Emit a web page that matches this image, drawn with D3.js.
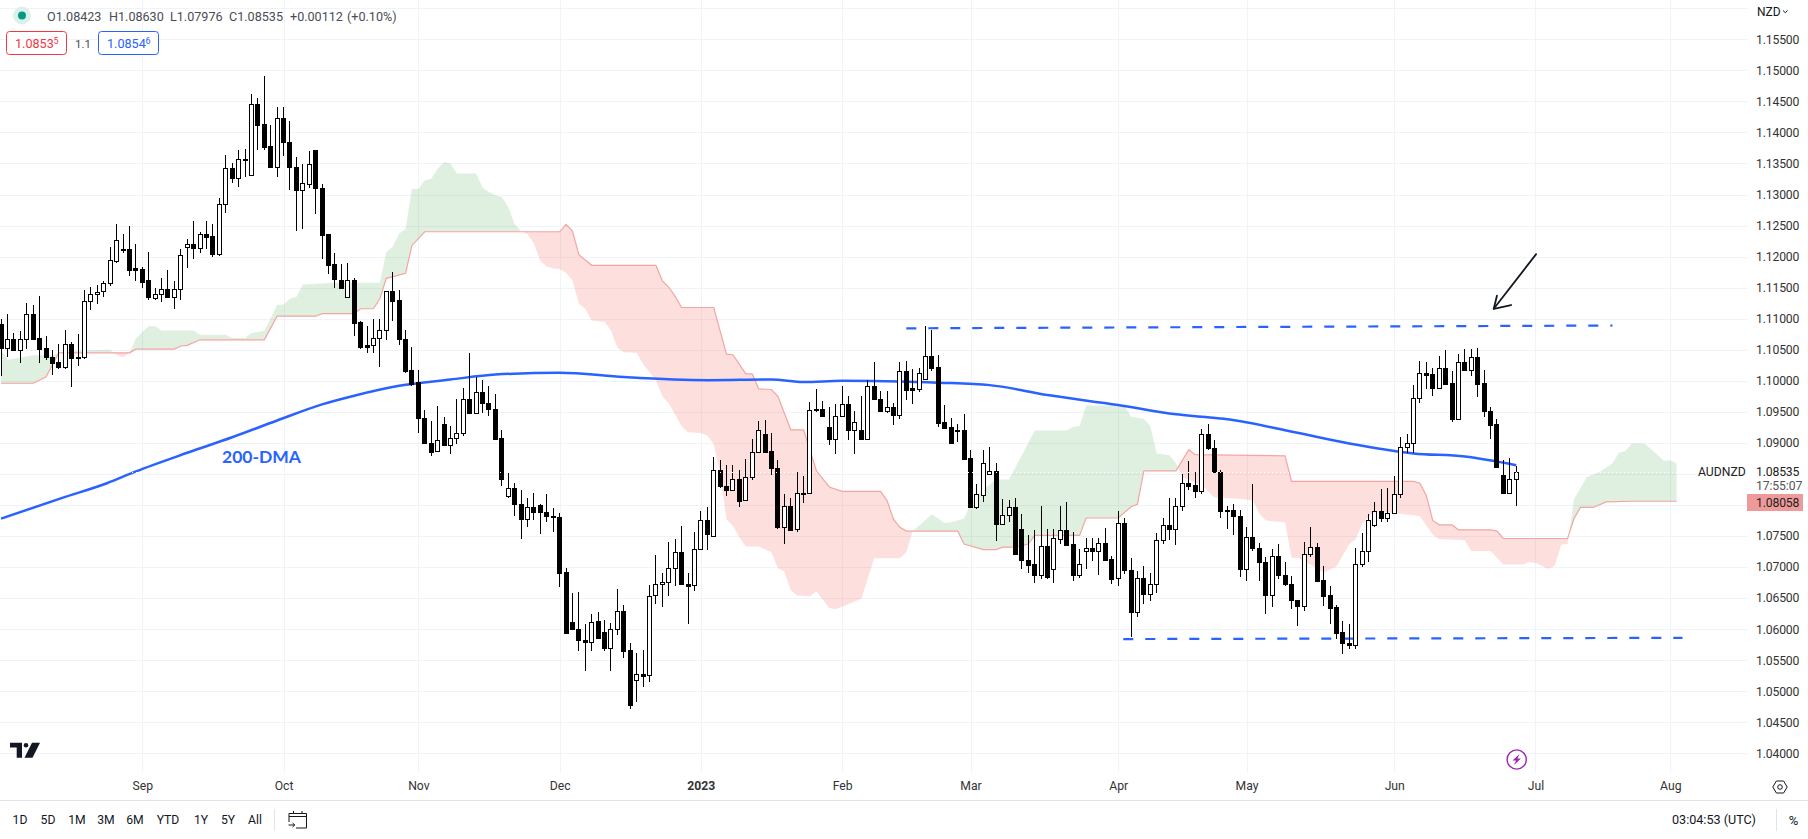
<!DOCTYPE html>
<html>
<head>
<meta charset="utf-8">
<title>AUDNZD</title>
<script src="https://d3js.org/d3.v7.min.js"></script>
<style>
  html, body { margin: 0; padding: 0; background: #fff; overflow: hidden; }
  svg text { font-family: Roboto, "Liberation Sans", sans-serif; }
</style>
</head>
<body>
<div id="chart"></div>
<script>
// daily candles, one entry per trading bar
const candleOpen = [
  1.1092,1.1053,1.1068,1.1050,1.1068,1.1107,1.1069,1.1052,1.1039,1.1030,
  1.1022,1.1060,1.1039,1.1038,1.1129,1.1139,1.1144,1.1157,1.1193,1.1213,
  1.1213,1.1181,1.1180,1.1162,1.1134,1.1140,1.1148,1.1135,1.1148,1.1216,
  1.1221,1.1214,1.1237,1.1233,1.1204,1.1284,1.1342,1.1326,1.1358,1.1332,
  1.1445,1.1414,1.1378,1.1345,1.1423,1.1384,1.1345,1.1307,1.1317,1.1372,
  1.1311,1.1236,1.1188,1.1163,1.1135,1.1163,1.1094,1.1058,1.1058,1.1069,
  1.1082,1.1144,1.1130,1.1068,1.1017,1.0998,1.0940,1.0900,1.0887,1.0930,
  1.0897,1.0908,1.0916,1.0971,1.0948,1.0982,1.0965,1.0955,1.0908,1.0814,
  1.0827,1.0801,1.0777,1.0797,1.0800,1.0789,1.0782,1.0781,1.0692,1.0611,
  1.0601,1.0582,1.0580,1.0613,1.0595,1.0569,1.0601,1.0629,1.0566,1.0518,
  1.0527,1.0526,1.0655,1.0672,1.0676,1.0698,1.0724,1.0672,1.0671,1.0729,
  1.0776,1.0750,1.0856,1.0831,1.0824,1.0842,1.0808,1.0845,1.0885,1.0914,
  1.0887,1.0860,1.0764,1.0798,1.0761,1.0820,1.0819,1.0955,1.0955,1.0926,
  1.0906,1.0944,1.0963,1.0921,1.0920,1.0907,1.0992,1.0971,1.0951,1.0958,
  1.0945,1.1016,1.0988,1.0987,1.1003,1.1040,1.1022,1.0933,1.0925,1.0919,
  1.0920,1.0875,1.0797,1.0816,1.0850,1.0855,1.0769,1.0784,1.0796,1.0762,
  1.0712,1.0705,1.0687,1.0734,1.0697,1.0745,1.0760,1.0737,1.0687,1.0726,
  1.0731,1.0726,1.0739,1.0713,1.0682,1.0771,1.0695,1.0627,1.0683,1.0657,
  1.0672,1.0744,1.0768,1.0761,1.0799,1.0836,1.0832,1.0822,1.0915,1.0892,
  1.0853,1.0792,1.0792,1.0783,1.0697,1.0749,1.0731,1.0708,1.0655,1.0718,
  1.0687,1.0673,1.0647,1.0638,1.0721,1.0733,1.0679,1.0655,1.0636,1.0595,
  1.0578,1.0575,1.0705,1.0726,1.0768,1.0791,1.0779,1.0787,1.0818,1.0894,
  1.0900,1.0973,1.1013,1.1011,1.0989,1.1020,1.0996,1.0939,1.1030,1.1018,
  1.1039,1.0996,1.0952,1.0930,1.0849,1.0820,1.08423
];
const candleHigh = [
  1.1099,1.1108,1.1077,1.1080,1.1125,1.1122,1.1136,1.1072,1.1050,1.1060,
  1.1081,1.1062,1.1075,1.1146,1.1151,1.1155,1.1161,1.1215,1.1253,1.1237,
  1.1249,1.1220,1.1183,1.1207,1.1150,1.1166,1.1178,1.1160,1.1212,1.1228,
  1.1258,1.1240,1.1257,1.1253,1.1294,1.1364,1.1350,1.1371,1.1373,1.1462,
  1.1455,1.1491,1.1412,1.1441,1.1441,1.1419,1.1361,1.1349,1.1370,1.1372,
  1.1317,1.1236,1.1205,1.1188,1.1190,1.1165,1.1097,1.1088,1.1100,1.1100,
  1.1144,1.1175,1.1146,1.1081,1.1055,1.1018,1.0953,1.0936,1.0960,1.0942,
  1.0927,1.0970,1.0989,1.1044,1.1006,1.1001,1.0992,1.0979,1.0920,1.0852,
  1.0836,1.0824,1.0811,1.0820,1.0802,1.0818,1.0795,1.0787,1.0698,1.0658,
  1.0660,1.0608,1.0625,1.0627,1.0615,1.0610,1.0664,1.0639,1.0577,1.0561,
  1.0566,1.0671,1.0719,1.0690,1.0740,1.0745,1.0766,1.0690,1.0757,1.0790,
  1.0797,1.0877,1.0873,1.0865,1.0865,1.0856,1.0874,1.0906,1.0936,1.0937,
  1.0916,1.0872,1.0818,1.0811,1.0853,1.0847,1.0966,1.0986,1.0968,1.0957,
  1.0962,1.0992,1.0976,1.0952,1.0975,1.1002,1.1031,1.0983,1.0984,1.0965,
  1.1031,1.1032,1.1019,1.1020,1.1088,1.1082,1.1041,1.0961,1.0940,1.0930,
  1.0947,1.0888,1.0833,1.0888,1.0893,1.0868,1.0810,1.0808,1.0812,1.0785,
  1.0751,1.0759,1.0799,1.0762,1.0762,1.0798,1.0804,1.0756,1.0729,1.0746,
  1.0746,1.0746,1.0763,1.0718,1.0791,1.0779,1.0715,1.0693,1.0702,1.0691,
  1.0755,1.0779,1.0812,1.0812,1.0850,1.0870,1.0853,1.0923,1.0931,1.0905,
  1.0857,1.0798,1.0802,1.0792,1.0765,1.0834,1.0739,1.0716,1.0729,1.0737,
  1.0708,1.0686,1.0647,1.0740,1.0765,1.0739,1.0702,1.0669,1.0639,1.0613,
  1.0608,1.0730,1.0755,1.0786,1.0804,1.0825,1.0828,1.0846,1.0910,1.0914,
  1.0993,1.1032,1.1030,1.1020,1.1040,1.1049,1.1016,1.1043,1.1051,1.1051,
  1.1053,1.1017,1.0958,1.0939,1.0872,1.0875,1.0863
];
const candleLow = [
  1.1008,1.1038,1.1048,1.1029,1.1051,1.1066,1.1029,1.1034,1.1010,1.1019,
  1.1019,1.0990,1.1023,1.1035,1.1114,1.1123,1.1135,1.1153,1.1190,1.1206,
  1.1168,1.1160,1.1150,1.1130,1.1130,1.1127,1.1134,1.1115,1.1130,1.1182,
  1.1196,1.1206,1.1213,1.1200,1.1201,1.1271,1.1318,1.1312,1.1329,1.1332,
  1.1372,1.1372,1.1345,1.1329,1.1362,1.1307,1.1241,1.1244,1.1310,1.1269,
  1.1196,1.1172,1.1150,1.1149,1.1135,1.1072,1.1051,1.1045,1.1045,1.1022,
  1.1065,1.1097,1.1057,1.1012,1.0991,1.0916,1.0898,1.0879,1.0887,1.0897,
  1.0882,1.0898,1.0911,1.0948,1.0948,1.0948,1.0944,1.0907,1.0831,1.0811,
  1.0783,1.0745,1.0764,1.0775,1.0753,1.0772,1.0756,1.0668,1.0594,1.0599,
  1.0564,1.0533,1.0565,1.0585,1.0565,1.0532,1.0591,1.0554,1.0472,1.0483,
  1.0506,1.0515,1.0641,1.0636,1.0654,1.0670,1.0672,1.0608,1.0662,1.0729,
  1.0727,1.0748,1.0827,1.0815,1.0822,1.0797,1.0808,1.0840,1.0885,1.0885,
  1.0849,1.0761,1.0737,1.0758,1.0756,1.0803,1.0819,1.0949,1.0943,1.0896,
  1.0882,1.0944,1.0904,1.0882,1.0907,1.0906,1.0970,1.0951,1.0948,1.0928,
  1.0939,1.0969,1.0962,1.0982,1.1003,1.1015,1.0926,1.0922,1.0898,1.0902,
  1.0874,1.0797,1.0793,1.0805,1.0850,1.0742,1.0767,1.0772,1.0721,1.0697,
  1.0690,1.0674,1.0680,1.0680,1.0674,1.0737,1.0735,1.0677,1.0682,1.0697,
  1.0709,1.0687,1.0709,1.0672,1.0670,1.0688,1.0588,1.0619,1.0640,1.0645,
  1.0658,1.0737,1.0744,1.0735,1.0790,1.0824,1.0811,1.0817,1.0888,1.0853,
  1.0779,1.0762,1.0751,1.0684,1.0677,1.0726,1.0678,1.0624,1.0635,1.0680,
  1.0670,1.0632,1.0605,1.0630,1.0716,1.0677,1.0637,1.0608,1.0584,1.0560,
  1.0568,1.0568,1.0700,1.0708,1.0764,1.0772,1.0773,1.0787,1.0811,1.0884,
  1.0884,1.0964,1.0987,1.0976,1.0989,1.0995,1.0934,1.0939,1.1018,1.1008,
  1.0974,1.0942,1.0906,1.0860,1.0817,1.0820,1.07976
];
const candleClose = [
  1.1053,1.1068,1.1050,1.1068,1.1107,1.1068,1.1051,1.1038,1.1029,1.1022,
  1.1060,1.1037,1.1037,1.1129,1.1139,1.1143,1.1157,1.1194,1.1226,1.1211,
  1.1179,1.1179,1.1159,1.1135,1.1140,1.1148,1.1135,1.1148,1.1203,1.1221,
  1.1214,1.1237,1.1232,1.1204,1.1284,1.1342,1.1326,1.1358,1.1357,1.1445,
  1.1412,1.1377,1.1345,1.1423,1.1384,1.1345,1.1307,1.1318,1.1349,1.1311,
  1.1235,1.1187,1.1164,1.1150,1.1163,1.1093,1.1054,1.1054,1.1069,1.1082,
  1.1144,1.1129,1.1067,1.1015,1.0995,1.0940,1.0899,1.0886,1.0905,1.0897,
  1.0908,1.0916,1.0971,1.0948,1.0982,1.0964,1.0954,1.0907,1.0841,1.0827,
  1.0801,1.0777,1.0796,1.0788,1.0788,1.0782,1.0780,1.0690,1.0594,1.0600,
  1.0582,1.0580,1.0612,1.0585,1.0569,1.0601,1.0629,1.0565,1.0477,1.0527,
  1.0525,1.0654,1.0672,1.0676,1.0698,1.0724,1.0672,1.0670,1.0729,1.0776,
  1.0753,1.0856,1.0830,1.0824,1.0842,1.0807,1.0845,1.0885,1.0921,1.0885,
  1.0859,1.0764,1.0798,1.0760,1.0819,1.0819,1.0953,1.0953,1.0943,1.0906,
  1.0944,1.0963,1.0920,1.0934,1.0907,1.0992,1.0970,1.0951,1.0958,1.0945,
  1.1015,1.0985,1.0985,1.1012,1.1040,1.1020,1.0932,1.0924,1.0899,1.0920,
  1.0874,1.0797,1.0817,1.0868,1.0855,1.0769,1.0784,1.0796,1.0721,1.0711,
  1.0704,1.0687,1.0734,1.0684,1.0746,1.0760,1.0736,1.0687,1.0705,1.0731,
  1.0726,1.0739,1.0712,1.0680,1.0771,1.0695,1.0627,1.0683,1.0656,1.0673,
  1.0744,1.0768,1.0761,1.0799,1.0836,1.0831,1.0822,1.0915,1.0891,1.0853,
  1.0790,1.0790,1.0782,1.0697,1.0749,1.0730,1.0708,1.0655,1.0718,1.0687,
  1.0672,1.0647,1.0638,1.0721,1.0733,1.0678,1.0653,1.0634,1.0594,1.0578,
  1.0575,1.0705,1.0726,1.0776,1.0791,1.0779,1.0787,1.0818,1.0894,1.0900,
  1.0973,1.1013,1.1010,1.0989,1.1020,1.0995,1.0939,1.1030,1.1018,1.1039,
  1.0995,1.0952,1.0929,1.0861,1.0819,1.0842,1.08535
];

// cloud edges, [bar index, price] at each corner of the edge
const spanA = [
  [0,1.1050],[1,1.1034],[3,1.1037],[5,1.1041],[8,1.1041],[9,1.1045],[13,1.1049],[17,1.1050],[18,1.1042],[19,1.1038],
  [20,1.1045],[21,1.1068],[22,1.1079],[23,1.1088],[24,1.1088],[25,1.1081],[30,1.1081],[31,1.1074],[35,1.1074],[36,1.1069],
  [38,1.1069],[39,1.1077],[41,1.1080],[43,1.1122],[44,1.1123],[45,1.1132],[46,1.1135],[47,1.1155],[52,1.1158],[59,1.1158],
  [60,1.1207],[61,1.1216],[62,1.1237],[63,1.1245],[64,1.1309],[65,1.1309],[66,1.1323],[67,1.1325],[68,1.1342],[69,1.1352],
  [70,1.1350],[71,1.1334],[74,1.1334],[75,1.1311],[76,1.1304],[77,1.1299],[78,1.1296],[79,1.1280],[80,1.1252],[81,1.1241],
  [82,1.1236],[83,1.1221],[84,1.1193],[85,1.1184],[86,1.1181],[87,1.1180],[88,1.1174],[89,1.1162],[90,1.1124],[91,1.1116],
  [92,1.1097],[94,1.1095],[95,1.1081],[96,1.1053],[97,1.1046],[99,1.1045],[100,1.1027],[102,1.1001],[103,1.0975],[104,1.0964],
  [106,1.0927],[107,1.0917],[109,1.0916],[110,1.0912],[111,1.0898],[112,1.0850],[113,1.0777],[114,1.0766],[115,1.0748],[116,1.0733],
  [118,1.0733],[120,1.0724],[121,1.0698],[122,1.0693],[123,1.0663],[124,1.0654],[126,1.0653],[127,1.0661],[129,1.0634],[130,1.0632],
  [134,1.0649],[136,1.0714],[140,1.0714],[141,1.0724],[142,1.0758],[143,1.0767],[145,1.0785],[147,1.0771],[148,1.0772],[150,1.0778],
  [151,1.0802],[153,1.0825],[155,1.0841],[157,1.0841],[159,1.0880],[161,1.0920],[166,1.0920],[167,1.0926],[168,1.0927],[169,1.0960],
  [175,1.0960],[176,1.0942],[178,1.0939],[179,1.0927],[180,1.0883],[182,1.0880],[183,1.0867],[184,1.0845],[187,1.0832],[189,1.0812],
  [193,1.0810],[195,1.0807],[196,1.0786],[197,1.0775],[200,1.0772],[201,1.0715],[202,1.0715],[205,1.0698],[206,1.0691],[208,1.0701],
  [210,1.0737],[211,1.0745],[212,1.0770],[214,1.0790],[218,1.0786],[221,1.0782],[223,1.0752],[224,1.0745],[228,1.0743],[229,1.0726],
  [232,1.0726],[234,1.0704],[237,1.0704],[238,1.0708],[239,1.0707],[241,1.0697],[242,1.0702],[243,1.0736],[244,1.0737],[245,1.0809],
  [247,1.0845],[249,1.0853],[251,1.0867],[252,1.0884],[253,1.0887],[254,1.0899],[256,1.0899],[259,1.0871],[260,1.0872],[261,1.0867]
];
const spanB = [
  [0,1.0996],[5,1.0996],[7,1.1006],[9,1.1045],[20,1.1045],[21,1.1051],[27,1.1051],[28,1.1056],[29,1.1057],[31,1.1066],
  [41,1.1066],[43,1.1104],[49,1.1104],[50,1.1108],[55,1.1108],[56,1.1116],[58,1.1116],[59,1.1132],[60,1.1165],[63,1.1173],
  [64,1.1218],[66,1.1240],[87,1.1240],[88,1.1252],[89,1.1241],[90,1.1203],[92,1.1186],[102,1.1186],[103,1.1161],[104,1.1151],
  [105,1.1136],[106,1.1118],[111,1.1118],[113,1.1043],[114,1.1042],[116,1.1011],[117,1.1011],[118,1.0987],[120,1.0986],[121,1.0975],
  [123,1.0921],[125,1.0921],[127,1.0855],[128,1.0842],[129,1.0829],[131,1.0822],[137,1.0822],[138,1.0807],[139,1.0777],[140,1.0764],
  [141,1.0758],[149,1.0758],[150,1.0737],[153,1.0728],[155,1.0728],[156,1.0732],[158,1.0732],[160,1.0737],[161,1.0751],[168,1.0751],
  [169,1.0779],[174,1.0779],[176,1.0797],[177,1.0801],[178,1.0855],[183,1.0855],[185,1.0889],[186,1.0881],[200,1.0879],[201,1.0838],
  [220,1.0838],[221,1.0835],[222,1.0815],[223,1.0775],[224,1.0768],[226,1.0768],[227,1.0760],[232,1.0760],[233,1.0758],[234,1.0746],
  [244,1.0746],[245,1.0778],[246,1.0796],[248,1.0796],[250,1.0805],[254,1.0806],[261,1.0806]
];

// 200 day moving average, [bar index, price]
const dma200 = [
  [0,1.0778],[10,1.0813],[16.5,1.0835],[21,1.0854],[29,1.0884],[36,1.0909],[43,1.0936],[50,1.0962],[55,1.0976],[62,1.0992],
  [70,1.1002],[77,1.1010],[87,1.1013],[97,1.1006],[110,1.1001],[120,1.1002],[125,1.0998],[131,1.1000],[140,1.0999],[146,1.0997],
  [154,1.0993],[163,1.0977],[174,1.0961],[183,1.0946],[187,1.0942],[191,1.0938],[201.5,1.0917],[210,1.0899],[220,1.0883],[228,1.0878],[236,1.0864]
];

// hand drawn support and resistance
const resistanceLine = [[141,1.10845],[251,1.1089]];
const supportLine = [[174.8,1.0584],[261.9,1.0586]];
const arrowShaft = [[239.1,1.1204],[232.5,1.1116]];
const arrowHead = [[233,1.1137],[232.5,1.1116],[235.2,1.1122]];

const gridPrices = [1.16,1.155,1.15,1.145,1.14,1.135,1.13,1.125,1.12,1.115,1.11,1.105,1.1,1.095,1.09,1.085,1.08,1.075,1.07,1.065,1.06,1.055,1.05,1.045,1.04];
const labelPrices = [1.155,1.15,1.145,1.14,1.135,1.13,1.125,1.12,1.115,1.11,1.105,1.1,1.095,1.09,1.075,1.07,1.065,1.06,1.055,1.05,1.045,1.04];
const monthBars = [22,44,65,87,109,131,151,174,194,217,239,260];
const monthLabels = ["Sep","Oct","Nov","Dec","2023","Feb","Mar","Apr","May","Jun","Jul","Aug"];
const rangeLabels = ["1D","5D","1M","3M","6M","YTD","1Y","5Y","All"];
const rangeX = [20,48,77,106,135,168,201,228,255];
const ohlcLabels = ["O1.08423","H1.08630","L1.07976","C1.08535","+0.00112","(+0.10%)"];
const ohlcX = [47,109,170,229,290,347];
const lastClose = 1.08535;

const W = 1808, H = 839, plotRight = 1747, plotBottom = 772;

const x = d3.scaleLinear().domain([0, 260]).range([1.06, 1670.3]);
const y = d3.scaleLinear().domain([1.04, 1.155]).range([753.3, 39.3]);

const svg = d3.select("#chart").append("svg").attr("width", W).attr("height", H).style("display", "block");

const px = v => Math.round(v) + 0.5;

// grid
const grid = svg.append("g").attr("stroke", "#f0f3fa").attr("stroke-width", 1);
grid.selectAll(".h").data(gridPrices).join("line").attr("x1", 0).attr("x2", plotRight).attr("y1", d => px(y(d))).attr("y2", d => px(y(d)));
grid.selectAll(".v").data(monthBars).join("line").attr("x1", d => px(x(d))).attr("x2", d => px(x(d))).attr("y1", 0).attr("y2", plotBottom);

// cloud, one polygon cut in two by the area above and below span B
const xy = d => [x(d[0]), y(d[1])];
const poly = d3.line().x(d => d[0]).y(d => d[1]);
const cloudPts = spanA.map(xy).concat(spanB.map(xy).reverse());
const bPts = spanB.map(xy);
const first = bPts[0][0], last = bPts[bPts.length - 1][0];
const defs = svg.append("defs");
defs.append("clipPath").attr("id", "aboveB").append("path").attr("d", poly(bPts.concat([[last, 0], [first, 0]])) + "Z");
defs.append("clipPath").attr("id", "belowB").append("path").attr("d", poly(bPts.concat([[last, H], [first, H]])) + "Z");

svg.append("path").attr("d", poly(cloudPts) + "Z").attr("fill", "#43a047").attr("fill-opacity", 0.17).attr("clip-path", "url(#aboveB)");
svg.append("path").attr("d", poly(cloudPts) + "Z").attr("fill", "#f44336").attr("fill-opacity", 0.17).attr("clip-path", "url(#belowB)");
svg.append("path").attr("d", poly(bPts)).attr("fill", "none").attr("stroke", "#f4a5a0").attr("stroke-width", 1.2);

// moving average and annotations
const priceLine = d3.line().x(d => x(d[0])).y(d => y(d[1]));
svg.append("path").attr("d", priceLine.curve(d3.curveMonotoneX)(dma200)).attr("fill", "none").attr("stroke", "#2962ff").attr("stroke-width", 2.5);
priceLine.curve(d3.curveLinear);
[resistanceLine, supportLine].forEach(l => {
  svg.append("path").attr("d", priceLine(l)).attr("fill", "none").attr("stroke", "#2962ff").attr("stroke-width", 2.2).attr("stroke-dasharray", "10 12");
});
[arrowShaft, arrowHead].forEach(l => {
  svg.append("path").attr("d", priceLine(l)).attr("fill", "none").attr("stroke", "#131722").attr("stroke-width", 1.8).attr("stroke-linecap", "round").attr("stroke-linejoin", "round");
});
svg.append("text").attr("x", 222).attr("y", 463).attr("fill", "#2962ff").attr("font-size", 17.5).attr("font-weight", 700)
  .style("font-family", "Lato").text("200-DMA");

// candles
const candles = candleOpen.map((o, i) => ({ i, o, h: candleHigh[i], l: candleLow[i], c: candleClose[i] }));
const bars = svg.append("g").attr("shape-rendering", "crispEdges");
bars.selectAll(".wick").data(candles).join("rect")
  .attr("x", d => Math.floor(x(d.i)))
  .attr("width", 1)
  .attr("y", d => Math.round(y(d.h)))
  .attr("height", d => Math.max(1, Math.round(y(d.l)) - Math.round(y(d.h))))
  .attr("fill", "#000");
bars.selectAll(".body").data(candles).join("rect")
  .attr("x", d => Math.floor(x(d.i)) - 1.5)
  .attr("width", 4)
  .attr("y", d => Math.round(y(Math.max(d.o, d.c))) + 0.5)
  .attr("height", d => Math.max(1, Math.round(y(Math.min(d.o, d.c))) - Math.round(y(Math.max(d.o, d.c)))))
  .attr("fill", d => d.c >= d.o ? "#fff" : "#000")
  .attr("stroke", "#000");

// last price dotted line
svg.append("line").attr("x1", 0).attr("x2", 1693).attr("y1", px(y(lastClose))).attr("y2", px(y(lastClose)))
  .attr("stroke", "#fff").attr("stroke-width", 1).attr("stroke-dasharray", "1 3");

// price axis
const yAxis = d3.axisRight(y).tickValues(labelPrices).tickSize(0).tickPadding(9).tickFormat(d3.format(".5f"));
const yG = svg.append("g").attr("transform", `translate(${plotRight},0)`).call(yAxis);
yG.select(".domain").remove();
yG.selectAll("text").attr("fill", "#333").attr("font-size", 12.2).style("letter-spacing", "-0.15px").style("font-family", "Roboto");

// time axis
const xAxis = d3.axisBottom(x).tickValues(monthBars).tickSize(0).tickPadding(0).tickFormat((d, i) => monthLabels[i]);
const xG = svg.append("g").attr("transform", `translate(0,${plotBottom})`).call(xAxis);
xG.select(".domain").remove();
xG.selectAll("text").attr("y", 14).attr("dy", "0.35em").attr("fill", "#333").attr("font-size", 12.2).style("font-family", "Roboto");
xG.selectAll("g.tick").filter((d, i) => monthLabels[i] === "2023").select("text").attr("font-weight", 700);

const label = (tx, ty, s, fill, size, anchor) => svg.append("text").attr("x", tx).attr("y", ty).attr("dy", "0.35em")
  .attr("fill", fill).attr("font-size", size || 12.2).attr("text-anchor", anchor || "start").text(s);

// right side labels
label(1757, 12, "NZD", "#131722", 12);
svg.append("path").attr("d", "M1783 10.5l2.3 2.2l2.3-2.2").attr("fill", "none").attr("stroke", "#131722");
label(1698, 472, "AUDNZD", "#222", 12.2);
label(1756, 472, "1.08535", "#222", 12.2).style("letter-spacing", "-0.15px");
label(1756, 486, "17:55:07", "#555", 12.2).style("letter-spacing", "-0.1px");
svg.append("rect").attr("x", 1747).attr("y", 494).attr("width", 56).attr("height", 17).attr("fill", "#ef9a9a");
label(1756, 502.6, "1.08058", "#222", 12.2).style("letter-spacing", "-0.15px");

// header
svg.append("circle").attr("cx", 22).attr("cy", 15.5).attr("r", 9).attr("fill", "#dbf1ee");
svg.append("circle").attr("cx", 22).attr("cy", 15.5).attr("r", 4).attr("fill", "#089981");
ohlcLabels.forEach((s, i) => label(ohlcX[i], 16.5, s, "#4a4d57", 12.6));

svg.append("rect").attr("x", 6.5).attr("y", 31.5).attr("width", 60).attr("height", 23).attr("rx", 3).attr("fill", "#fff").attr("stroke", "#f23645");
label(15, 43.5, "1.0853", "#f23645", 12.6);
label(53.5, 41, "5", "#f23645", 9);
label(75, 43.5, "1.1", "#4a4d57", 11.5);
svg.append("rect").attr("x", 98.5).attr("y", 31.5).attr("width", 60).attr("height", 23).attr("rx", 3).attr("fill", "#fff").attr("stroke", "#2962ff");
label(107, 43.5, "1.0854", "#2962ff", 12.6);
label(145.5, 41, "6", "#2962ff", 9);

// logo, bolt and settings icons
svg.append("path").attr("fill", "#131722").attr("d", "M10 742.7H22V757.7H16.7V747.5H10ZM24.5 757.7L32 742.7H40L32.5 757.7Z");
svg.append("circle").attr("cx", 26).attr("cy", 745.3).attr("r", 2.3).attr("fill", "#131722");
svg.append("circle").attr("cx", 1516.7).attr("cy", 759.5).attr("r", 9.6).attr("fill", "#fff").attr("stroke", "#9c27b0").attr("stroke-width", 1.4);
svg.append("path").attr("fill", "#9c27b0").attr("d", "M1519.5 754L1512.5 760.5H1516L1514 765L1521 758.5H1517.5Z");
svg.append("path").attr("fill", "none").attr("stroke", "#131722").attr("d", "M1772.8 787L1776.4 781H1783.6L1787.2 787L1783.6 793H1776.4Z");
svg.append("circle").attr("cx", 1780).attr("cy", 787).attr("r", 2.3).attr("fill", "none").attr("stroke", "#131722");

// bottom bar
svg.append("line").attr("x1", 0).attr("x2", W).attr("y1", 800.5).attr("y2", 800.5).attr("stroke", "#e0e3eb");
rangeLabels.forEach((s, i) => label(rangeX[i], 820, s, "#131722", 12.2, "middle"));
svg.append("line").attr("x1", 274.5).attr("x2", 274.5).attr("y1", 809).attr("y2", 831).attr("stroke", "#e0e3eb");
svg.append("path").attr("fill", "none").attr("stroke", "#131722")
  .attr("d", "M289 822V813.5H306.5V828H296M289 816.5H306.5M293.5 811V814M302 811V814M288.5 825H294.5M292.5 823L294.8 825L292.5 827");
label(1672, 820, "03:04:53 (UTC)", "#131722", 12.6);
svg.append("line").attr("x1", 1776.5).attr("x2", 1776.5).attr("y1", 809).attr("y2", 831).attr("stroke", "#e0e3eb");
label(1793.5, 820, "%", "#131722", 13, "middle");
</script>
</body>
</html>
